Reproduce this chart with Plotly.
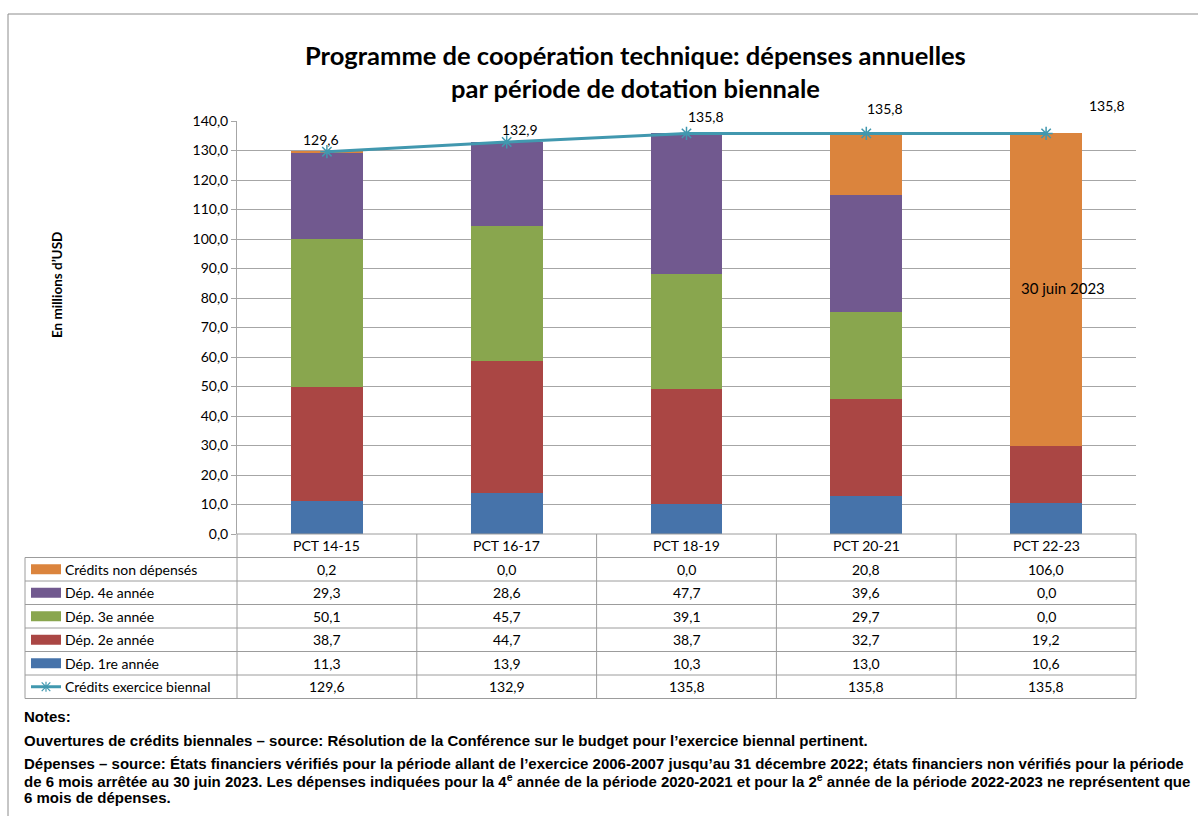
import plotly.graph_objects as go

# ---------------- data ----------------
categories = ["PCT 14-15", "PCT 16-17", "PCT 18-19", "PCT 20-21", "PCT 22-23"]
dep_1re = [11.3, 13.9, 10.3, 13.0, 10.6]
dep_2e = [38.7, 44.7, 38.7, 32.7, 19.2]
dep_3e = [50.1, 45.7, 39.1, 29.7, 0.0]
dep_4e = [29.3, 28.6, 47.7, 39.6, 0.0]
non_dep = [0.2, 0.0, 0.0, 20.8, 106.0]
credits = [129.6, 132.9, 135.8, 135.8, 135.8]
y_ticks = [0, 10, 20, 30, 40, 50, 60, 70, 80, 90, 100, 110, 120, 130, 140]

series_names = ["Dép. 1re année", "Dép. 2e année", "Dép. 3e année", "Dép. 4e année", "Crédits non dépensés"]
line_name = "Crédits exercice biennal"
note_label = "30 juin 2023"
note_value = 83.5

title_text = "Programme de coopération technique: dépenses annuelles<br>par période de dotation biennale"
y_title = "En millions d’USD"
notes_head = "Notes:"
notes_1 = "Ouvertures de crédits biennales – source: Résolution de la Conférence sur le budget pour l’exercice biennal pertinent."
notes_2 = ["Dépenses – source: États financiers vérifiés pour la période allant de l’exercice 2006-2007 jusqu’au 31 décembre 2022; états financiers non vérifiés pour la période",
           "de 6 mois arrêtée au 30 juin 2023. Les dépenses indiquées pour la 4<sup>e</sup> année de la période 2020-2021 et pour la 2<sup>e</sup> année de la période 2022-2023 ne représentent que",
           "6 mois de dépenses."]

# ---------------- style ----------------
colors = ["#4673AA", "#AA4644", "#89A64E", "#71598F", "#DB843D"]
line_color = "#4198AF"
grid_color = "#A6A6A6"
FONT = "Lato"
NOTE_FONT = "Liberation Sans"
W, H = 1198, 816
L, R, T, B = 237, 1136, 121, 534


def px2p(px):
    return (px - L) / (R - L)


def py2p(py):
    return (B - py) / (B - T)


def fmt(v):
    return f"{v:.1f}".replace(".", ",")


fig = go.Figure()
series_vals = [dep_1re, dep_2e, dep_3e, dep_4e, non_dep]
for name, vals, col in zip(series_names, series_vals, colors):
    fig.add_trace(go.Bar(x=categories, y=vals, name=name, marker=dict(color=col, line=dict(width=0)),
                         width=0.4))

fig.add_trace(go.Scatter(x=categories, y=credits, name=line_name, mode="lines+markers",
                         line=dict(color=line_color, width=3),
                         marker=dict(symbol="asterisk-open", size=11, line=dict(color=line_color, width=1.5)),
                         cliponaxis=False))

annotations = []
shapes = []

# line data labels
label_shift = [(-6, 12), (13, 12), (19, 17), (19, 25), (61, 28)]
for c, v, (dx, dy) in zip(categories, credits, label_shift):
    annotations.append(dict(x=c, y=v, xref="x", yref="y", text=fmt(v), showarrow=False,
                            xanchor="center", yanchor="middle",
                            xshift=dx, yshift=dy, font=dict(family=FONT, size=14, color="black")))

# orange bar label
annotations.append(dict(x=categories[-1], y=note_value, xref="x", yref="y", text=note_label, showarrow=False,
                        xanchor="center", yanchor="middle",
                        xshift=17, font=dict(family=FONT, size=15, color="black")))

# title
annotations.append(dict(x=px2p(635), y=py2p(71), xref="paper", yref="paper", text="<b>" + title_text + "</b>",
                        showarrow=False, xanchor="center", yanchor="middle",
                        font=dict(family=FONT, size=25.5, color="black")))

# y title
annotations.append(dict(x=px2p(57), y=py2p(285), xref="paper", yref="paper", text="<b>" + y_title + "</b>",
                        showarrow=False, textangle=-90, xanchor="center", yanchor="middle",
                        font=dict(family=FONT, size=13.5, color="black")))

# ---------------- data table ----------------
row_h = 23.5
rows_top = B
n_rows = 7
bounds = [rows_top + i * row_h for i in range(n_rows + 1)]
table_left = 25
tcol = "#9C9C9C"

# horizontal lines
for i, yb in enumerate(bounds):
    x0 = L if i == 0 else table_left
    shapes.append(dict(type="line", xref="paper", yref="paper", x0=px2p(x0), x1=px2p(R),
                       y0=py2p(yb), y1=py2p(yb), line=dict(color=tcol, width=1)))
# vertical lines
col_w = (R - L) / len(categories)
for j in range(len(categories) + 1):
    xv = L + j * col_w
    shapes.append(dict(type="line", xref="paper", yref="paper", x0=px2p(xv), x1=px2p(xv),
                       y0=py2p(bounds[0]), y1=py2p(bounds[-1]), line=dict(color=tcol, width=1)))
shapes.append(dict(type="line", xref="paper", yref="paper", x0=px2p(table_left), x1=px2p(table_left),
                   y0=py2p(bounds[1]), y1=py2p(bounds[-1]), line=dict(color=tcol, width=1)))

# header
hy = (bounds[0] + bounds[1]) / 2
for c in categories:
    annotations.append(dict(x=c, y=py2p(hy), xref="x", yref="paper", text=c, showarrow=False,
                            xanchor="center", yanchor="middle",
                            font=dict(family=FONT, size=14, color="black")))

table_rows = [(series_names[4], non_dep, colors[4]),
              (series_names[3], dep_4e, colors[3]),
              (series_names[2], dep_3e, colors[2]),
              (series_names[1], dep_2e, colors[1]),
              (series_names[0], dep_1re, colors[0]),
              (line_name, credits, None)]
for r, (name, vals, col) in enumerate(table_rows):
    cy = (bounds[r + 1] + bounds[r + 2]) / 2
    annotations.append(dict(x=px2p(63), y=py2p(cy), xref="paper", yref="paper", text=name, showarrow=False,
                            xanchor="left", yanchor="middle", font=dict(family=FONT, size=14, color="black")))
    for c, v in zip(categories, vals):
        annotations.append(dict(x=c, y=py2p(cy), xref="x", yref="paper", text=fmt(v), showarrow=False,
                                xanchor="center", yanchor="middle",
                                font=dict(family=FONT, size=14, color="black")))
    if col is not None:
        shapes.append(dict(type="rect", xref="paper", yref="paper", x0=px2p(31), x1=px2p(61),
                           y0=py2p(cy - 5), y1=py2p(cy + 5), fillcolor=col, line=dict(width=0)))
    else:
        shapes.append(dict(type="line", xref="paper", yref="paper", x0=px2p(31), x1=px2p(61),
                           y0=py2p(cy), y1=py2p(cy), line=dict(color=line_color, width=3)))
        mx = 46
        for (ax, ay) in [(0, 5), (4.3, 4.3), (4.3, -4.3)]:
            shapes.append(dict(type="line", xref="paper", yref="paper", x0=px2p(mx - ax), x1=px2p(mx + ax),
                               y0=py2p(cy - ay), y1=py2p(cy + ay), line=dict(color=line_color, width=1.2)))

# notes
note_lines = [(716, "<b>" + notes_head + "</b>"), (740, "<b>" + notes_1 + "</b>")]
for k, txt in enumerate(notes_2):
    note_lines.append((763 + k * 17, "<b>" + txt + "</b>"))
for py, txt in note_lines:
    annotations.append(dict(x=px2p(22), y=py2p(py), xref="paper", yref="paper", text=txt,
                            showarrow=False, xanchor="left", yanchor="middle",
                            font=dict(family=NOTE_FONT, size=15, color="black")))

# outer frame
shapes.append(dict(type="rect", xref="paper", yref="paper", x0=px2p(8), x1=px2p(1260),
                   y0=py2p(14), y1=py2p(900), line=dict(color="#8C8C8C", width=1), fillcolor="rgba(0,0,0,0)"))

fig.update_layout(
    width=W, height=H,
    margin=dict(l=L, r=W - R, t=T, b=H - B, autoexpand=False),
    barmode="stack",
    plot_bgcolor="white", paper_bgcolor="white",
    showlegend=False,
    separators=", ",
    annotations=annotations,
    shapes=shapes,
    xaxis=dict(type="category", range=[-0.5, 4.5], showticklabels=False, showline=False,
               ticks="", showgrid=False, zeroline=False),
    yaxis=dict(range=[0, 140], tickvals=y_ticks, tickformat=".1f", showgrid=True, gridcolor=grid_color,
               gridwidth=1, showline=True, linecolor=grid_color, linewidth=1, ticks="outside", ticklen=5,
               tickcolor=grid_color, zeroline=False,
               tickfont=dict(family=FONT, size=14, color="black")),
)

fig.write_html("out.html", config={"displayModeBar": False},
               post_script="document.body.style.margin='0';document.body.style.overflow='hidden';")
